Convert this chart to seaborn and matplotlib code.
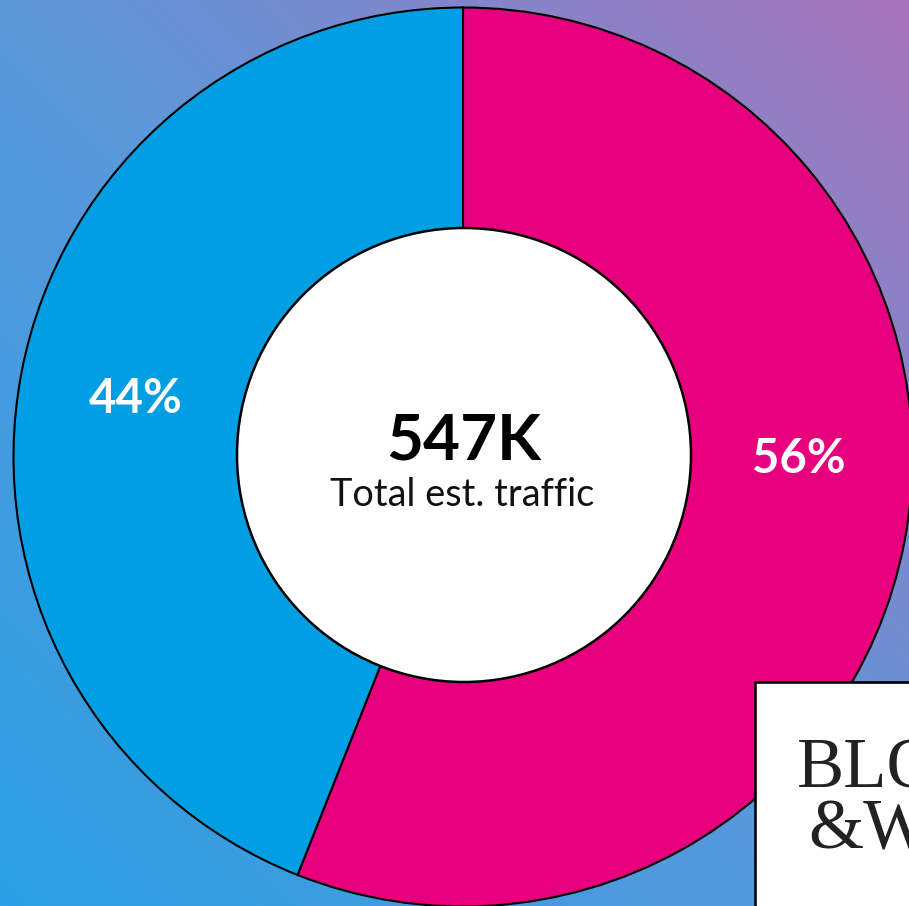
import numpy as np
import matplotlib
matplotlib.use("Agg")
import matplotlib.pyplot as plt
from matplotlib.colors import LinearSegmentedColormap
from matplotlib.patches import Rectangle
import seaborn as sns

shares = [56, 44]
share_labels = ["56%", "44%"]
slice_colors = ["#E6007E", "#009FE3"]
total_label = "547K"
caption = "Total est. traffic"
brand_top = "BLO"
brand_bottom = "&W"

sns.set_theme(style="white")
plt.rcParams["font.family"] = ["Lato", "DejaVu Sans"]

W, H = 909, 906
fig = plt.figure(figsize=(W / 100, H / 100), dpi=100)

# Diagonal backdrop running from lower-left blue to upper-right mauve
bg = fig.add_axes([0, 0, 1, 1], zorder=0)
gy, gx = np.mgrid[0:1:200j, 0:1:200j]
ramp = (gx + gy) / 2
cmap = LinearSegmentedColormap.from_list("bg", ["#2A9FE5", "#5C98DA", "#A774BA"])
bg.imshow(ramp, origin="lower", extent=[0, W, 0, H], cmap=cmap, aspect="auto", vmin=0, vmax=1)
bg.set_axis_off()

# Pixel-scaled axes: y runs downward so positions read like screen coordinates
ax = fig.add_axes([0, 0, 1, 1], zorder=1)
ax.patch.set_alpha(0)

cx, cy, R = 463, 457, 449.5
hole_x, hole_y, hole_r = 464, 455, 227

# With y inverted, -90 degrees points up and increasing angles run clockwise on screen
ax.pie(
    shares,
    colors=slice_colors,
    startangle=-90,
    counterclock=True,
    center=(cx, cy),
    radius=R,
    frame=True,
    wedgeprops=dict(edgecolor="black", linewidth=1.5, width=R - hole_r + 4, clip_on=False),
)
ax.set_xlim(0, W)
ax.set_ylim(H, 0)
ax.set_aspect("auto")
ax.set_axis_off()

ax.add_patch(plt.Circle((hole_x, hole_y), hole_r, facecolor="white", edgecolor="black", linewidth=1.8, zorder=3))

ax.text(799, 459, share_labels[0], color="white", fontsize=34, fontweight="bold", ha="center", va="center", zorder=4)
ax.text(136, 399, share_labels[1], color="white", fontsize=34, fontweight="bold", ha="center", va="center", zorder=4)
ax.text(464, 441, total_label, color="black", fontsize=46, fontweight="bold", ha="center", va="center", zorder=4)
ax.text(462, 495, caption, color="#111111", fontsize=27.3, fontweight="normal", ha="center", va="center", zorder=4)

# Brand badge in the lower-right corner
ax.add_patch(Rectangle((755, 682), 170, 240, facecolor="white", edgecolor="black", linewidth=1.9, zorder=5))
ax.text(797, 787, brand_top, family="Liberation Serif", color="#222222", fontsize=51, ha="left", va="baseline", zorder=6, clip_on=True)
ax.text(808, 848, brand_bottom, family="Liberation Serif", color="#222222", fontsize=51, ha="left", va="baseline", zorder=6, clip_on=True)

fig.savefig("out.png", dpi=100)
